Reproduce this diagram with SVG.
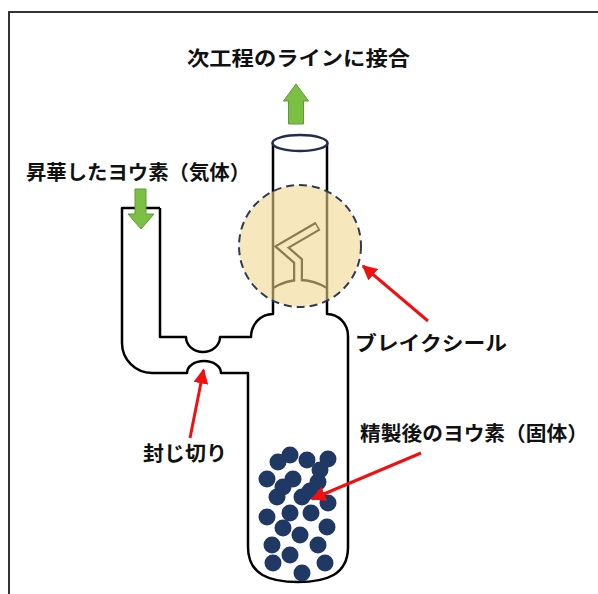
<svg xmlns="http://www.w3.org/2000/svg" width="598" height="594" viewBox="0 0 598 594">
  <style>
    .glass { fill: none; stroke: #000; stroke-width: 2.5; stroke-linejoin: round; }
    .label { font-family: "Noto Sans CJK JP", "Noto Sans", sans-serif; font-size: 20px; font-weight: bold; fill: #111; }
    .flow { fill: #7CC043; stroke: #5E9A30; stroke-width: 1; }
    .pointer { stroke: #F01010; stroke-width: 3; fill: none; }
    .crystal { fill: #1F3864; }
  </style>
  <defs>
    <marker id="redHead" viewBox="0 0 10 10" refX="9" refY="5" markerWidth="5" markerHeight="5" orient="auto" markerUnits="strokeWidth">
      <path d="M0,0 L10,5 L0,10 Z" fill="#F01010"/>
    </marker>
  </defs>

  <rect x="9" y="12" width="620" height="620" fill="#fff" stroke="#333" stroke-width="2"/>

  <!-- glass apparatus -->
  <g id="apparatus">
    <!-- outer wall: side inlet, lower seal bump, body, right shoulder, neck -->
    <path class="glass" d="M160,208 L122,208 L122,343 A30,30 0 0 0 152,373 L187,373 A17,12 0 0 1 221,373 L248,373 L248,547 C248,575 270,582 298,582 C326,582 348,575 348,547 L348,336 A21,22 0 0 0 327,314 L327,143"/>
    <!-- inner wall: side inlet, upper seal bump, left shoulder, neck -->
    <path class="glass" d="M160,208 L160,337 L186,337 A17,15 0 0 0 220,337 L251,337 A22,23 0 0 1 273,314 L273,143"/>
    <!-- open top of neck -->
    <ellipse cx="300" cy="143" rx="27.5" ry="8" fill="#fff" stroke="#1F2D4E" stroke-width="2.5"/>
  </g>

  <!-- break seal: membrane and bent glass rod -->
  <g id="break-seal">
    <path d="M273,288 Q300,272 327,288" fill="none" stroke="#000" stroke-width="2.5"/>
    <path d="M298,281 L298,261 L282,247 L318,226" fill="none" stroke="#000" stroke-width="10" stroke-linejoin="miter"/>
    <path d="M298,283 L298,261 L282,247 L316.7,226.8" fill="none" stroke="#fff" stroke-width="5.5" stroke-linejoin="miter"/>
    <circle cx="300" cy="246" r="61" fill="#EFD68C" fill-opacity="0.58" stroke="#2F3B55" stroke-width="2" stroke-dasharray="8,5"/>
  </g>

  <!-- purified iodine crystals -->
  <g id="crystals" class="crystal">
    <circle cx="278" cy="462" r="8.5"/>
    <circle cx="290" cy="455" r="8.5"/>
    <circle cx="307" cy="460" r="8.5"/>
    <circle cx="328" cy="459" r="8.5"/>
    <circle cx="267" cy="479" r="8.5"/>
    <circle cx="293" cy="479" r="8.5"/>
    <circle cx="320" cy="470" r="8.5"/>
    <circle cx="283" cy="487" r="8.5"/>
    <circle cx="318" cy="482" r="8.5"/>
    <circle cx="277" cy="497" r="8.5"/>
    <circle cx="302" cy="497" r="8.5"/>
    <circle cx="310" cy="491" r="8.5"/>
    <circle cx="328" cy="503" r="8.5"/>
    <circle cx="267" cy="517" r="8.5"/>
    <circle cx="290" cy="513" r="8.5"/>
    <circle cx="311" cy="513" r="8.5"/>
    <circle cx="283" cy="528" r="8.5"/>
    <circle cx="327" cy="527" r="8.5"/>
    <circle cx="300" cy="535" r="8.5"/>
    <circle cx="272" cy="545" r="8.5"/>
    <circle cx="318" cy="545" r="8.5"/>
    <circle cx="290" cy="555" r="8.5"/>
    <circle cx="273" cy="563" r="8.5"/>
    <circle cx="325" cy="563" r="8.5"/>
    <circle cx="302" cy="573" r="8.5"/>
  </g>

  <!-- flow arrows -->
  <g id="flow-out">
    <path class="flow" d="M296,84 L308.5,101 L303.5,101 L303.5,124 L288.5,124 L288.5,101 L283.5,101 Z"/>
  </g>
  <g id="flow-in">
    <path class="flow" d="M135,189 L146,189 L146,214 L154,214 L141,229 L128,214 L135,214 Z"/>
  </g>

  <!-- pointers -->
  <g id="connectors">
    <line class="pointer" x1="428" y1="321" x2="363" y2="266" marker-end="url(#redHead)"/>
    <line class="pointer" x1="190" y1="438" x2="203.5" y2="370" marker-end="url(#redHead)"/>
    <line class="pointer" x1="421" y1="453" x2="312" y2="499" marker-end="url(#redHead)"/>
  </g>

  <!-- labels -->
  <g id="label-next">
    <text class="label" x="187" y="66" textLength="223" lengthAdjust="spacingAndGlyphs">次工程のラインに接合</text>
  </g>
  <g id="label-gas">
    <text class="label" x="26" y="180" textLength="224" lengthAdjust="spacingAndGlyphs">昇華したヨウ素（気体）</text>
  </g>
  <g id="label-breakseal">
    <text class="label" x="355" y="351" textLength="152" lengthAdjust="spacingAndGlyphs">ブレイクシール</text>
  </g>
  <g id="label-solid">
    <text class="label" x="360" y="441" textLength="228" lengthAdjust="spacingAndGlyphs">精製後のヨウ素（固体）</text>
  </g>
  <g id="label-sealoff">
    <text class="label" x="143" y="461" textLength="84" lengthAdjust="spacingAndGlyphs">封じ切り</text>
  </g>
</svg>
